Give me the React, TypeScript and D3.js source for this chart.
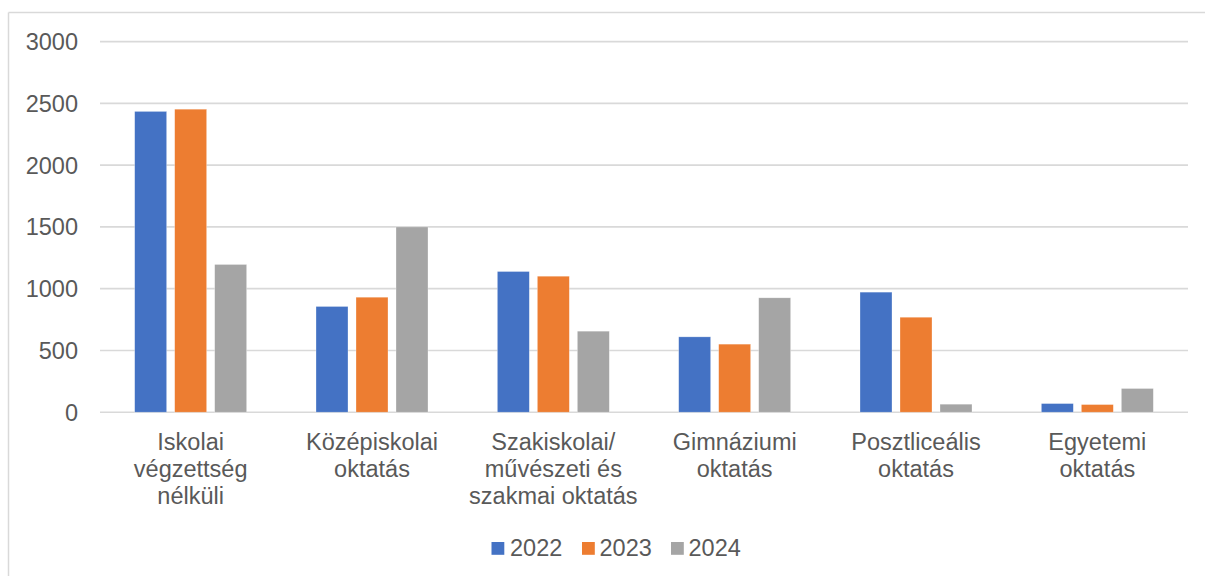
import React from "react";
import * as d3 from "d3";

const categories: string[][] = [
  ["Iskolai", "végzettség", "nélküli"],
  ["Középiskolai", "oktatás"],
  ["Szakiskolai/", "művészeti és", "szakmai oktatás"],
  ["Gimnáziumi", "oktatás"],
  ["Posztliceális", "oktatás"],
  ["Egyetemi", "oktatás"],
];
const seriesNames = ["2022", "2023", "2024"];
const values2022 = [2435, 856, 1139, 610, 972, 70];
const values2023 = [2453, 931, 1101, 551, 769, 62];
const values2024 = [1196, 1500, 656, 926, 65, 192];
const yTicks = [0, 500, 1000, 1500, 2000, 2500, 3000];
const colors = ["#4472C4", "#ED7D31", "#A5A5A5"];

const W = 1205;
const H = 576;
const FONT = "'Liberation Sans', Arial, sans-serif";
const TEXT = "#595959";

export default function App() {
  const series = [values2022, values2023, values2024];
  const x = d3
    .scaleBand<number>()
    .domain(d3.range(categories.length))
    .range([100, 1188])
    .paddingInner(0)
    .paddingOuter(0);
  const groupW = 112;
  const xs = d3
    .scaleBand<number>()
    .domain(d3.range(seriesNames.length))
    .range([0, groupW])
    .paddingInner(0.2)
    .paddingOuter(0);
  const y = d3.scaleLinear().domain([0, 3000]).range([412.2, 41.6]);

  const legendItems = [
    { sq: 491.5, tx: 510 },
    { sq: 582, tx: 599.5 },
    { sq: 671, tx: 688.5 },
  ];

  return (
    <svg
      width={W}
      height={H}
      style={{ position: "absolute", left: 0, top: 0, background: "#fff" }}
      fontFamily={FONT}
    >
      <rect x={0} y={0} width={W} height={H} fill="#fff" />
      {/* frame */}
      <line x1={8.5} x2={8.5} y1={12.5} y2={H} stroke="#d9d9d9" strokeWidth={1.5} />
      <line x1={8.5} x2={W} y1={12.5} y2={12.5} stroke="#d9d9d9" strokeWidth={1.5} />
      {/* gridlines */}
      {yTicks.map((t) => (
        <g key={t}>
          <line
            x1={100}
            x2={1188}
            y1={y(t)}
            y2={y(t)}
            stroke="#d9d9d9"
            strokeWidth={1.6}
          />
          <text
            x={78}
            y={y(t)}
            dy="0.36em"
            textAnchor="end"
            fontSize={23.5}
            fill={TEXT}
          >
            {t}
          </text>
        </g>
      ))}
      {/* bars */}
      {categories.map((_, ci) => {
        const cx = (x(ci) as number) + x.bandwidth() / 2 - groupW / 2;
        return series.map((vals, si) => (
          <rect
            key={`${ci}-${si}`}
            x={cx + (xs(si) as number)}
            y={y(vals[ci])}
            width={xs.bandwidth()}
            height={y(0) - y(vals[ci])}
            fill={colors[si]}
            stroke="#ffffff"
            strokeOpacity={0.5}
            strokeWidth={0.6}
          />
        ));
      })}
      {/* category labels */}
      {categories.map((lines, ci) => {
        const cx = (x(ci) as number) + x.bandwidth() / 2;
        return (
          <text key={ci} textAnchor="middle" fontSize={23.5} fill={TEXT}>
            {lines.map((l, li) => (
              <tspan key={li} x={cx} y={449.5 + li * 27.3}>
                {l}
              </tspan>
            ))}
          </text>
        );
      })}
      {/* legend */}
      {seriesNames.map((name, si) => (
        <g key={name}>
          <rect
            x={legendItems[si].sq}
            y={542}
            width={12.8}
            height={12.8}
            fill={colors[si]}
          />
          <text x={legendItems[si].tx} y={556} fontSize={23.5} fill={TEXT}>
            {name}
          </text>
        </g>
      ))}
    </svg>
  );
}
